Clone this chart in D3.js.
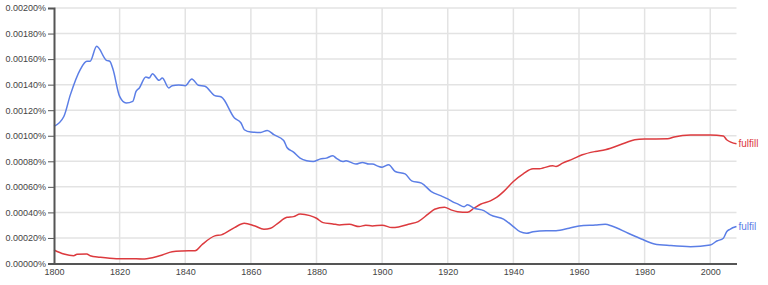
<!DOCTYPE html>
<meta charset="utf-8" />
<style>
  body { margin: 0; background: #fff; }
  svg { font-family: Arial, "Liberation Sans", sans-serif; }
  .grid line { stroke: #e3e3e3; stroke-width: 1.5; }
  .axis path, .axis line { stroke: #555; fill: none; }
  .axis text { fill: #444; font-size: 9px; }
  .line { fill: none; stroke-width: 1.5; }
</style>
<body>
<script src="https://d3js.org/d3.v7.min.js"></script>
<script>
// fulfil (blue)
var fulfilYears = [1800,1803,1805,1808,1810,1811,1813,1816,1817,1818,1820,1822,1824,1825,1826,1828,1829,1830,1832,1833,1835,1836,1838,1840,1842,1844,1846,1849,1851,1855,1857,1858,1860,1863,1865,1867,1870,1871,1873,1875,1877,1879,1881,1883,1885,1886,1888,1889,1892,1894,1896,1897,1899,1900,1902,1904,1907,1909,1912,1915,1918,1920,1922,1923,1925,1926,1928,1931,1933,1937,1940,1942,1944,1946,1950,1953,1957,1960,1965,1968,1970,1975,1979,1983,1988,1994,2000,2002,2004,2005,2006,2008];
var fulfilValues = [0.001073,0.001151,0.001322,0.001518,0.001583,0.001583,0.00170,0.00159,0.001583,0.001518,0.001308,0.001256,0.001269,0.001347,0.001374,0.00146,0.001452,0.001486,0.001434,0.001452,0.001374,0.001392,0.001397,0.001392,0.001445,0.001395,0.001387,0.001314,0.001303,0.001139,0.0011,0.001047,0.001029,0.001026,0.001042,0.001008,0.000963,0.000908,0.000872,0.000825,0.000804,0.000798,0.000817,0.000825,0.000843,0.000825,0.000798,0.000804,0.000778,0.000791,0.000778,0.000778,0.000759,0.000754,0.000773,0.00072,0.000702,0.000647,0.000629,0.000563,0.000529,0.000506,0.000477,0.000467,0.000445,0.000459,0.000433,0.000414,0.00038,0.000347,0.000289,0.000249,0.000237,0.000249,0.000257,0.000257,0.000276,0.000294,0.000302,0.000307,0.000294,0.000237,0.000192,0.000153,0.00014,0.000132,0.000145,0.000176,0.000198,0.000249,0.000268,0.000289];

// fulfill (red)
var fulfillYears = [1800,1803,1806,1807,1810,1811,1814,1819,1823,1827,1830,1833,1836,1839,1843,1845,1849,1851,1855,1858,1861,1864,1866,1868,1871,1873,1875,1878,1880,1882,1885,1887,1890,1893,1895,1897,1900,1903,1905,1908,1911,1914,1916,1919,1921,1923,1926,1928,1930,1933,1935,1937,1940,1943,1946,1948,1949,1952,1953,1955,1958,1961,1965,1968,1974,1977,1980,1987,1989,1994,2000,2004,2005,2008];
var fulfillValues = [0.000106,0.0000745,0.000061,0.000072,0.0000745,0.000061,0.000049,0.0000376,0.0000376,0.000035,0.0000455,0.0000667,0.0000925,0.000098,0.0001,0.000145,0.000216,0.000224,0.000281,0.000315,0.000296,0.000268,0.000276,0.00031,0.000362,0.000367,0.000388,0.000375,0.000354,0.00032,0.00031,0.000302,0.000307,0.000289,0.0003,0.000294,0.0003,0.000281,0.000286,0.000307,0.000328,0.000386,0.000425,0.000441,0.00042,0.000406,0.000402,0.000433,0.000464,0.00049,0.000519,0.000563,0.000642,0.000702,0.000741,0.000741,0.000747,0.000765,0.000759,0.000786,0.000817,0.000851,0.000877,0.00089,0.000943,0.000969,0.000974,0.000976,0.00099,0.001005,0.001005,0.000998,0.000969,0.000937];

var yTicks = [0, 0.0002, 0.0004, 0.0006, 0.0008, 0.001, 0.0012, 0.0014, 0.0016, 0.0018, 0.002];
var xTicks = [1800, 1820, 1840, 1860, 1880, 1900, 1920, 1940, 1960, 1980, 2000];

var series = [
  { name: "fulfill", years: fulfillYears, values: fulfillValues, color: "#dc3a3e" },
  { name: "fulfil", years: fulfilYears, values: fulfilValues, color: "#5b7ee6" }
];

var W = 768, H = 285;
var mLeft = 54, mRight = 736.5, mTop = 8, mBottom = 263.5;

var x = d3.scaleLinear().domain([1800, 2008]).range([mLeft, mRight]);
var y = d3.scaleLinear().domain([0, 0.002]).range([mBottom, mTop]);

var svg = d3.select("body").append("svg").attr("width", W).attr("height", H);

// grid
var grid = svg.append("g").attr("class", "grid");
grid.selectAll(".h").data(yTicks.slice(1)).enter().append("line")
  .attr("x1", mLeft).attr("x2", mRight)
  .attr("y1", function (d) { return y(d); }).attr("y2", function (d) { return y(d); });
grid.selectAll(".v").data(xTicks.slice(1)).enter().append("line")
  .attr("y1", mTop).attr("y2", mBottom)
  .attr("x1", function (d) { return x(d); }).attr("x2", function (d) { return x(d); });

// lines
var line = d3.line()
  .x(function (d) { return x(d[0]); })
  .y(function (d) { return y(d[1]); })
  .curve(d3.curveMonotoneX);

series.forEach(function (s) {
  var pts = s.years.map(function (yr, i) { return [yr, s.values[i]]; });
  svg.append("path").attr("class", "line").attr("stroke", s.color).attr("d", line(pts));
  var last = pts[pts.length - 1];
  svg.append("text")
    .attr("x", x(last[0]) + 2)
    .attr("y", y(last[1]))
    .attr("dy", "0.32em")
    .attr("fill", s.color)
    .style("font-size", "10px")
    .text(s.name);
});

// axes
var yAxis = svg.append("g").attr("class", "axis")
  .attr("transform", "translate(" + mLeft + ",0)")
  .call(d3.axisLeft(y).tickValues(yTicks).tickSize(6).tickPadding(2)
    .tickFormat(function (d) { return d3.format(".5f")(d) + "%"; }));
yAxis.select(".domain").attr("stroke-width", 2);

var xAxis = svg.append("g").attr("class", "axis")
  .attr("transform", "translate(0," + mBottom + ")")
  .call(d3.axisBottom(x).tickValues(xTicks).tickSize(0).tickPadding(5)
    .tickFormat(d3.format("d")));
xAxis.select(".domain").attr("stroke-width", 2);
</script>
</body>
